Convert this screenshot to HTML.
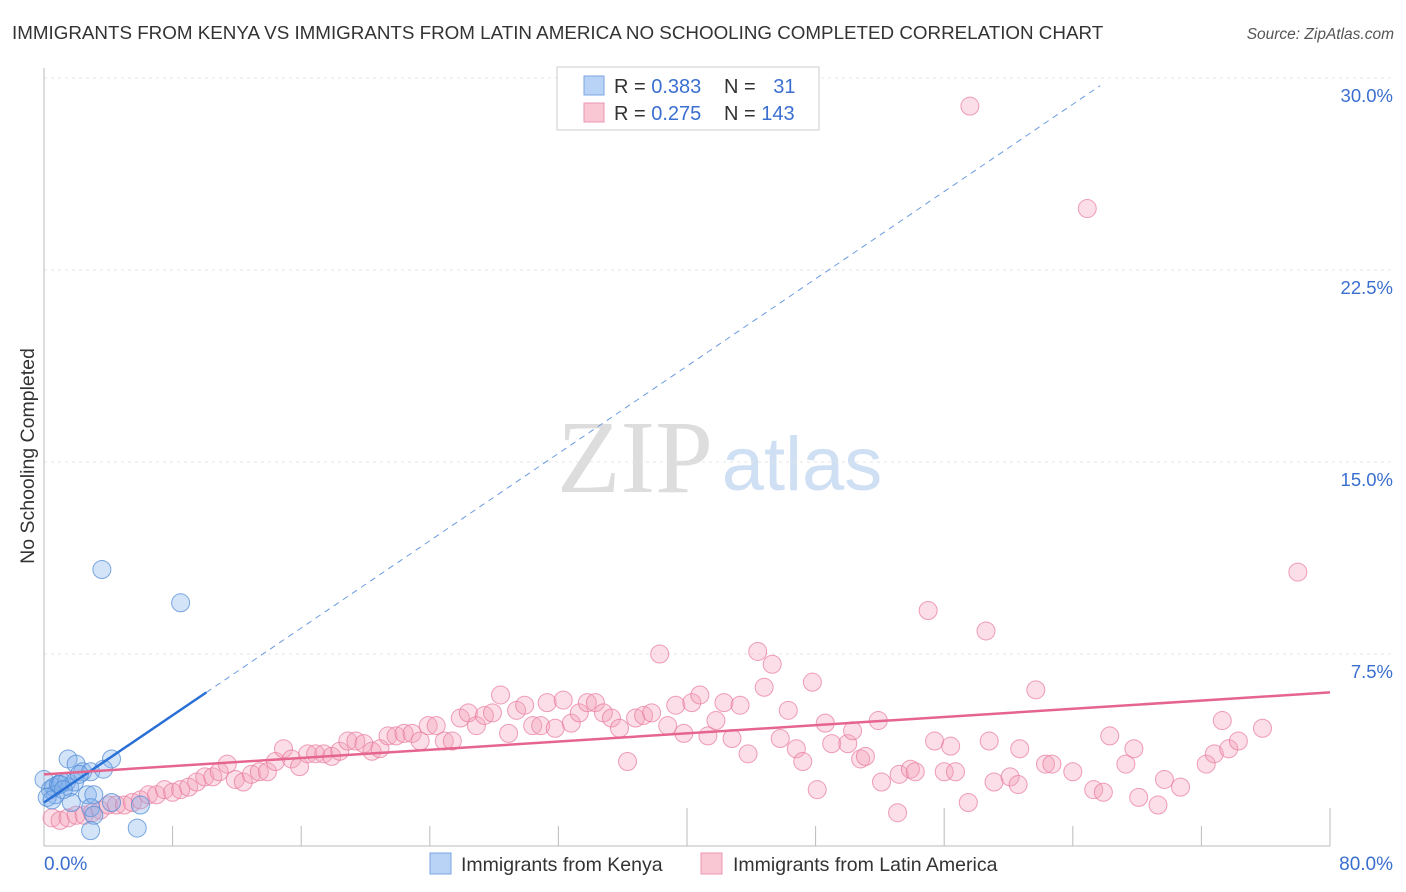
<!DOCTYPE html>
<html><head><meta charset="utf-8"><style>
body{margin:0;background:#fff;font-family:"Liberation Sans",sans-serif}
#wrap{position:relative;width:1406px;height:892px;overflow:hidden}
svg{position:absolute;left:0;top:0}
</style></head><body>
<div id="wrap">
<svg id="chart" width="1406" height="892">
<text x="12" y="39" font-size="18.8" fill="#333">IMMIGRANTS FROM KENYA VS IMMIGRANTS FROM LATIN AMERICA NO SCHOOLING COMPLETED CORRELATION CHART</text>
<text x="1394" y="39" font-size="15.5" fill="#555" font-style="italic" text-anchor="end">Source: ZipAtlas.com</text>
<text x="635" y="492" font-size="104" fill="#ddd" font-family="Liberation Serif,serif" text-anchor="middle">ZIP</text>
<text x="802" y="490" font-size="76" fill="#cfdff4" text-anchor="middle">atlas</text>
<text transform="translate(34,456) rotate(-90)" font-size="19.5" fill="#333" text-anchor="middle">No Schooling Completed</text>
<g id="grid"></g><g id="axes"></g><g id="pts"></g><g id="lines"></g>
<g>
<rect x="557" y="67" width="262" height="63" fill="#fff" stroke="#ccc"/>
<rect x="584" y="76" width="20" height="19" fill="#b8d3f5" stroke="#7aa6e0"/>
<rect x="584" y="103" width="20" height="19" fill="#f9c6d4" stroke="#eb95b0"/>
<text x="614" y="93" font-size="20" fill="#333">R = <tspan fill="#3a6fd0">0.383</tspan></text>
<text x="724" y="93" font-size="20" fill="#333">N = <tspan fill="#3a6fd0" dx="12">31</tspan></text>
<text x="614" y="120" font-size="20" fill="#333">R = <tspan fill="#3a6fd0">0.275</tspan></text>
<text x="724" y="120" font-size="20" fill="#333">N = <tspan fill="#3a6fd0">143</tspan></text>
</g>
<g>
<rect x="430" y="853" width="21" height="21" fill="#b8d3f5" stroke="#7aa6e0"/>
<text x="461" y="871" font-size="19.5" fill="#333">Immigrants from Kenya</text>
<rect x="701" y="853" width="21" height="21" fill="#f9c6d4" stroke="#eb95b0"/>
<text x="733" y="871" font-size="19.5" fill="#333">Immigrants from Latin America</text>
</g>
</svg></div>
<script>
const yTicks=[7.5,15,22.5,30];
const yTickLabels=["7.5%","15.0%","22.5%","30.0%"];
const xTicks=[0,8,16,24,32,40,48,56,64,72,80];
const kenyaX=[0,0.4,0.6,0.9,1.1,1.4,1.6,1.9,1.5,2.0,2.4,2.9,2.2,0.7,0.2,0.5,2.7,3.1,1.0,1.7,2.9,3.1,2.9,4.2,6.0,5.8,4.2,3.7,3.6,8.5,1.2];
const kenyaY=[2.6,2.2,2.3,2.4,2.5,2.5,2.3,2.5,3.4,3.2,2.9,2.9,2.8,2.0,1.9,1.8,2.0,2.0,2.4,1.7,1.5,1.2,0.6,1.7,1.6,0.7,3.4,3.0,10.8,9.5,2.2];
const latX=[0.5,1.0,1.5,2.0,2.5,3.0,3.5,4.0,4.5,5.0,5.5,6.0,6.5,7.0,7.5,8.0,8.5,9.0,9.5,10.0,10.5,10.9,11.4,11.9,12.4,12.9,13.4,13.9,14.4,14.9,15.4,15.9,16.4,16.9,17.4,17.9,18.4,18.9,19.4,19.9,20.4,20.9,21.4,21.9,22.4,22.9,23.4,23.9,24.4,24.9,25.4,25.9,26.4,26.9,27.4,27.9,28.4,28.9,29.4,29.9,30.4,30.9,31.3,31.8,32.3,32.8,33.3,33.8,34.3,34.8,35.3,35.8,36.3,36.8,37.3,37.8,38.3,38.8,39.3,39.8,40.3,40.8,41.3,41.8,42.3,42.8,43.3,43.8,44.4,44.8,45.3,45.8,46.3,46.8,47.2,47.8,48.1,48.6,49.0,50.0,50.3,50.8,51.1,51.9,52.1,53.1,53.2,53.9,54.2,55.0,55.4,56.0,56.4,56.7,57.5,58.6,58.8,59.1,60.1,60.6,60.7,61.7,62.3,62.7,64.0,65.3,65.9,66.3,67.3,67.8,68.1,69.3,69.7,70.7,72.3,72.8,73.3,73.7,74.3,75.8,78.0,57.6,64.9];
const latY=[1.1,1.0,1.1,1.2,1.2,1.3,1.4,1.6,1.6,1.6,1.7,1.8,2.0,2.0,2.2,2.1,2.2,2.3,2.5,2.7,2.7,2.9,3.2,2.6,2.5,2.8,2.9,2.9,3.3,3.8,3.4,3.1,3.6,3.6,3.6,3.5,3.7,4.1,4.1,4.0,3.7,3.8,4.3,4.3,4.4,4.4,4.1,4.7,4.7,4.1,4.1,5.0,5.2,4.7,5.1,5.2,5.9,4.4,5.3,5.5,4.7,4.7,5.6,4.6,5.7,4.8,5.2,5.6,5.6,5.2,5.0,4.6,3.3,5.0,5.1,5.2,7.5,4.7,5.5,4.4,5.6,5.9,4.3,4.9,5.6,4.2,5.5,3.6,7.6,6.2,7.1,4.2,5.3,3.8,3.3,6.4,2.2,4.8,4.0,4.0,4.5,3.4,3.5,4.9,2.5,1.3,2.8,3.0,2.9,9.2,4.1,2.9,3.9,2.9,1.7,8.4,4.1,2.5,2.7,2.4,3.8,6.1,3.2,3.2,2.9,2.2,2.1,4.3,3.2,3.8,1.9,1.6,2.6,2.3,3.2,3.6,4.9,3.8,4.1,4.6,10.7,28.9,24.9];
const kenyaTrendX=[0,10.1,65.7];
const kenyaTrendY=[1.7,6.0,29.7];
const latTrendX=[0,80];
const latTrendY=[2.8,6.0];
const NS="http://www.w3.org/2000/svg";
const X0=44,X1=1330,Y0=846,YPX=25.6;
function sx(v){return X0+v*(X1-X0)/80;}
function sy(v){return Y0-v*YPX;}
function mk(tag,attrs,parent){const e=document.createElementNS(NS,tag);for(const k in attrs)e.setAttribute(k,attrs[k]);document.getElementById(parent).appendChild(e);return e;}
yTicks.forEach((t,i)=>{
 const l=mk('line',{x1:X0,x2:1394,y1:sy(t),y2:sy(t),stroke:'#e4e4e4','stroke-dasharray':'3,4'},'grid');
 
 
 const tx=mk('text',{x:1393,y:sy(t)+24,'font-size':18.5,fill:'#3a6fd0','text-anchor':'end'},'grid');
 tx.textContent=yTickLabels[i];
 
 
});
const ya=mk('line',{x1:X0,x2:X0,y1:68,y2:Y0,stroke:'#bbb'},'axes');


const xa=mk('line',{x1:X0,x2:X1,y1:Y0,y2:Y0,stroke:'#bbb'},'axes');


xTicks.forEach(t=>{
 const long=(t===40||t===56||t===80);
 const tk=mk('line',{x1:sx(t),x2:sx(t),y1:long?808:826,y2:Y0,stroke:'#bbb'},'axes');
 
 
});
const xl0=mk('text',{x:44,y:870,'font-size':19,fill:'#3a6fd0'},'axes');xl0.textContent='0.0%';


const xl1=mk('text',{x:1393,y:870,'font-size':19,fill:'#3a6fd0','text-anchor':'end'},'axes');xl1.textContent='80.0%';


latX.forEach((v,i)=>{
 const c=mk('circle',{cx:sx(v),cy:sy(latY[i]),r:9,fill:'rgba(244,160,185,0.35)',stroke:'rgba(232,120,155,0.7)','stroke-width':1},'pts');
 
 
});
kenyaX.forEach((v,i)=>{
 const c=mk('circle',{cx:sx(v),cy:sy(kenyaY[i]),r:9,fill:'rgba(130,175,235,0.35)',stroke:'rgba(80,140,215,0.75)','stroke-width':1},'pts');
 
 
});
const kl=mk('line',{x1:sx(kenyaTrendX[0]),y1:sy(kenyaTrendY[0]),x2:sx(kenyaTrendX[1]),y2:sy(kenyaTrendY[1]),stroke:'#2a6fd6','stroke-width':2.5},'lines');


const kd=mk('line',{x1:sx(kenyaTrendX[1]),y1:sy(kenyaTrendY[1]),x2:sx(kenyaTrendX[2]),y2:sy(kenyaTrendY[2]),stroke:'#6a9be0','stroke-width':1,'stroke-dasharray':'6,5'},'lines');


const ll=mk('line',{x1:sx(latTrendX[0]),y1:sy(latTrendY[0]),x2:sx(latTrendX[1]),y2:sy(latTrendY[1]),stroke:'#e5658f','stroke-width':2.5},'lines');


</script></body></html>
